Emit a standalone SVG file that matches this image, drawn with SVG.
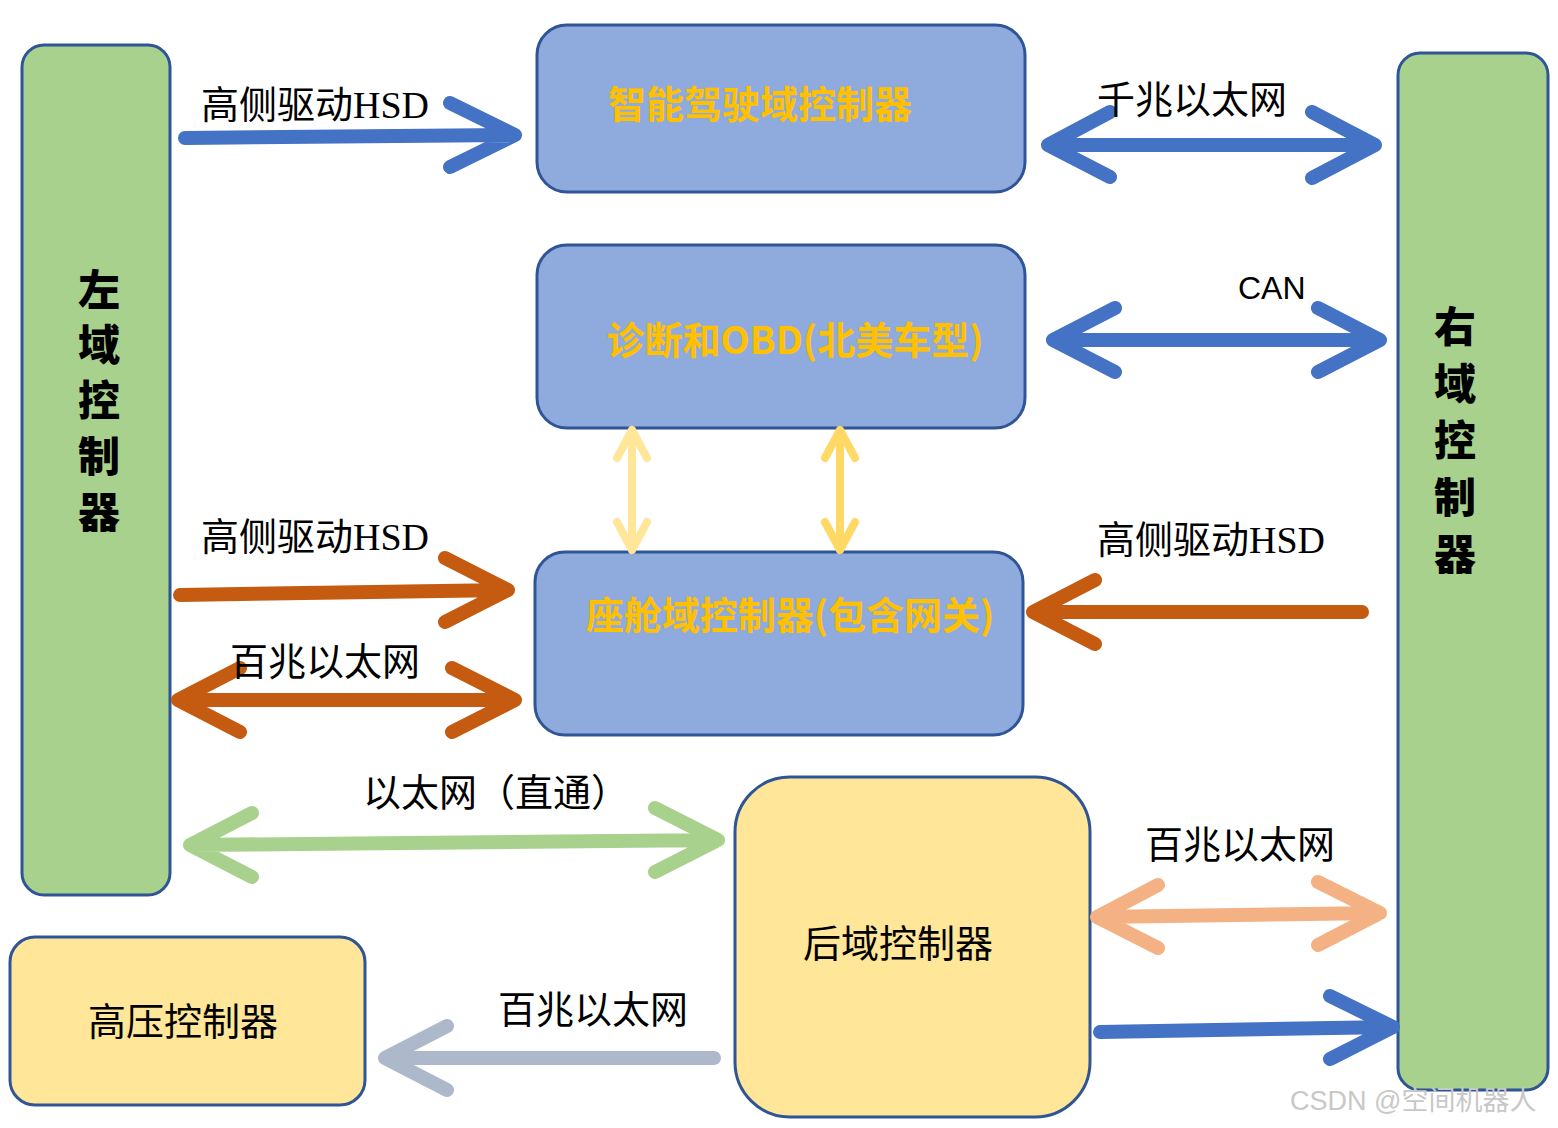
<svg xmlns="http://www.w3.org/2000/svg" width="1558" height="1128" viewBox="0 0 1558 1128">
<style>
.box{stroke:#2f5597;stroke-width:3}
.g{fill:#a9d18e}.b{fill:#8faadc}.y{fill:#ffe699}
.a{fill:none;stroke-linecap:round;stroke-linejoin:round}
.t{font-family:"Liberation Serif","Noto Sans CJK SC",serif;font-size:38px;fill:#000}
.o{font-family:"Noto Sans CJK SC",sans-serif;font-weight:bold;font-size:38px;fill:#ffc000;text-anchor:middle}
.v{font-family:"Noto Sans CJK SC",sans-serif;font-weight:900;font-size:42px;fill:#000;text-anchor:middle}
</style>
<rect width="1558" height="1128" fill="#fff"/>
<g id="left"><rect class="box g" x="22" y="45" width="148" height="850" rx="22"/>
<text class="v" x="99" y="305">左</text><text class="v" x="99" y="360">域</text><text class="v" x="99" y="416">控</text><text class="v" x="99" y="472">制</text><text class="v" x="99" y="528">器</text></g>
<g id="right"><rect class="box g" x="1398" y="53" width="150" height="1037" rx="22"/>
<text class="v" x="1455" y="342">右</text><text class="v" x="1455" y="399">域</text><text class="v" x="1455" y="456">控</text><text class="v" x="1455" y="513">制</text><text class="v" x="1455" y="570">器</text></g>
<g id="adas"><rect class="box b" x="537" y="25" width="488" height="167" rx="30"/><text class="o" x="760" y="118">智能驾驶域控制器</text></g>
<g id="obd"><rect class="box b" x="537" y="245" width="488" height="183" rx="30"/><text class="o" x="795" y="354">诊断和OBD(北美车型)</text></g>
<g id="cockpit"><rect class="box b" x="535" y="552" width="488" height="183" rx="30"/><text class="o" x="790" y="629">座舱域控制器(包含网关)</text></g>
<g id="rear"><rect class="box y" x="735" y="777" width="355" height="340" rx="55"/><text class="t" x="898" y="957" text-anchor="middle">后域控制器</text></g>
<g id="hv"><rect class="box y" x="10" y="937" width="355" height="168" rx="25"/><text class="t" x="183" y="1035" text-anchor="middle">高压控制器</text></g>
<g id="connectors" class="a">
<path stroke="#4472c4" stroke-width="14" d="M185 138L515 135M450 103L515 135L450 167"/>
<path stroke="#4472c4" stroke-width="14" d="M1048 145L1375 145M1110 112L1048 145L1110 177M1312 112L1375 145L1312 178"/>
<path stroke="#4472c4" stroke-width="14" d="M1053 340L1380 340M1115 308L1053 340L1115 372M1318 308L1380 340L1318 372"/>
<path stroke="#ffe699" stroke-width="8" d="M632 430L632 550M617 458L632 430L647 458M617 522L632 550L647 522"/>
<path stroke="#ffd966" stroke-width="8" d="M840 430L840 550M825 458L840 430L855 458M825 522L840 550L855 522"/>
<path stroke="#c55a11" stroke-width="14" d="M180 595L508 590M445 558L508 590L445 622"/>
<path stroke="#c55a11" stroke-width="14" d="M178 700L515 700M240 668L178 700L240 732M452 668L515 700L452 732"/>
<path stroke="#c55a11" stroke-width="14" d="M1362 612L1033 612M1095 580L1033 612L1095 644"/>
<path stroke="#a9d18e" stroke-width="14" d="M190 845L718 840M252 813L190 845L252 877M655 808L718 840L655 872"/>
<path stroke="#f4b183" stroke-width="14" d="M1097 917L1380 913M1158 885L1097 917L1158 948M1318 882L1380 913L1318 945"/>
<path stroke="#4472c4" stroke-width="14" d="M1100 1032L1393 1027M1330 996L1393 1027L1330 1059"/>
<path stroke="#adb9ca" stroke-width="14" d="M714 1058L385 1058M447 1026L385 1058L447 1090"/>
</g>
<g id="labels">
<text class="t" x="201" y="118">高侧驱动HSD</text>
<text class="t" x="1097" y="113">千兆以太网</text>
<text x="1238" y="299" font-family="Liberation Sans,sans-serif" font-size="32">CAN</text>
<text class="t" x="201" y="550">高侧驱动HSD</text>
<text class="t" x="1097" y="553">高侧驱动HSD</text>
<text class="t" x="230" y="675">百兆以太网</text>
<text class="t" x="363" y="806">以太网（直通）</text>
<text class="t" x="1145" y="858">百兆以太网</text>
<text class="t" x="498" y="1023">百兆以太网</text>
<text x="1290" y="1110" font-family="Liberation Sans,'Noto Sans CJK SC',sans-serif" font-size="27" fill="#c8c8c8">CSDN @空间机器人</text>
</g>
</svg>
